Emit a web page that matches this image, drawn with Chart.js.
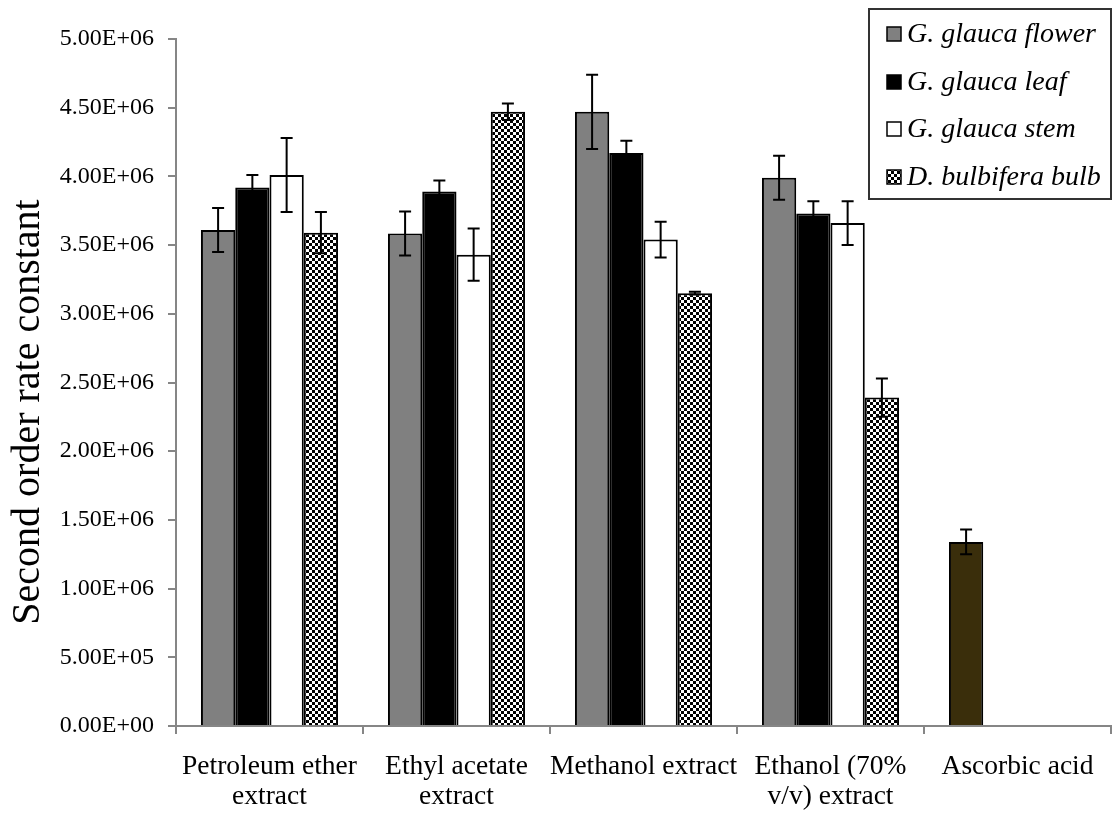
<!DOCTYPE html>
<html>
<head>
<meta charset="utf-8">
<script src="https://cdn.jsdelivr.net/npm/chart.js@4/dist/chart.umd.min.js"></script>
<style>
html,body{margin:0;padding:0;background:#fff;}
#wrap{width:1114px;height:816px;}
</style>
</head>
<body>
<div id="wrap"><canvas id="c" width="1114" height="816"></canvas></div>
<script>
// ---- data ----
const categories = [["Petroleum ether","extract"],["Ethyl acetate","extract"],["Methanol extract"],["Ethanol (70%","v/v) extract"],["Ascorbic acid"]];
const seriesNames = ["G. glauca flower","G. glauca leaf","G. glauca stem","D. bulbifera bulb"];
const flowerValues = [3.61e6, 3.585e6, 4.47e6, 3.99e6, 1.34e6];
const flowerErrors = [0.16e6, 0.16e6, 0.27e6, 0.16e6, 0.09e6];
const leafValues   = [3.92e6, 3.89e6, 4.17e6, 3.73e6, null];
const leafErrors   = [0.09e6, 0.08e6, 0.09e6, 0.09e6, null];
const stemValues   = [4.01e6, 3.43e6, 3.54e6, 3.66e6, null];
const stemErrors   = [0.27e6, 0.19e6, 0.13e6, 0.16e6, null];
const bulbValues   = [3.59e6, 4.47e6, 3.15e6, 2.39e6, null];
const bulbErrors   = [0.15e6, 0.06e6, 0.01e6, 0.14e6, null];
const yMin = 0, yMax = 5e6, yStep = 5e5;
const yTitle = "Second order rate constant";

// ---- styling ----
const SERIF = '"Liberation Serif","Times New Roman",serif';
function makePattern(){
  const p = document.createElement('canvas'); p.width = 6; p.height = 6;
  const g = p.getContext('2d');
  g.fillStyle = '#fff'; g.fillRect(0,0,6,6);
  g.fillStyle = '#000'; g.fillRect(0,0,3,3); g.fillRect(3,3,3,3);
  return document.getElementById('c').getContext('2d').createPattern(p,'repeat');
}
const checker = makePattern();
const flowerColors = flowerValues.map((v,i)=> i===4 ? '#3a2e0b' : '#808080');

function sci(v){
  if (v === 0) return '0.00E+00';
  const e = Math.floor(Math.log10(v) + 1e-9);
  const m = v / Math.pow(10,e);
  return m.toFixed(2) + 'E+' + String(e).padStart(2,'0');
}

const errorMap = [flowerErrors, leafErrors, stemErrors, bulbErrors];

const errorBars = {
  id:'errorBars',
  afterDatasetsDraw(chart){
    const ctx = chart.ctx, ys = chart.scales.y;
    ctx.save();
    ctx.strokeStyle = '#000'; ctx.lineWidth = 2;
    chart.data.datasets.forEach((ds,di)=>{
      const meta = chart.getDatasetMeta(di);
      ds.data.forEach((v,i)=>{
        const e = errorMap[di][i];
        if (v == null || e == null) return;
        const x = meta.data[i].x;
        const y1 = ys.getPixelForValue(v + e), y2 = ys.getPixelForValue(v - e);
        const cw = 6;
        ctx.beginPath();
        ctx.moveTo(x, y1); ctx.lineTo(x, y2);
        ctx.moveTo(x-cw, y1); ctx.lineTo(x+cw, y1);
        ctx.moveTo(x-cw, y2); ctx.lineTo(x+cw, y2);
        ctx.stroke();
      });
    });
    ctx.restore();
  }
};

const yTitlePlugin = {
  id:'yTitlePlugin',
  afterDraw(chart){
    const ctx = chart.ctx;
    ctx.save();
    ctx.translate(28, 412);
    ctx.rotate(-Math.PI/2);
    ctx.font = '40px ' + SERIF;
    ctx.fillStyle = '#000';
    ctx.textAlign = 'center'; ctx.textBaseline = 'middle';
    ctx.fillText(yTitle, 0, 0);
    ctx.restore();
  }
};

const legendBox = {
  id:'legendBox',
  afterDraw(chart){
    const ctx = chart.ctx;
    ctx.save();
    const bx = 869, by = 9, bw = 242, bh = 190;
    ctx.fillStyle = '#fff'; ctx.fillRect(bx, by, bw, bh);
    ctx.strokeStyle = '#333'; ctx.lineWidth = 2;
    ctx.strokeRect(bx, by, bw, bh);
    ctx.font = 'italic 28px ' + SERIF;
    ctx.textBaseline = 'middle'; ctx.textAlign = 'left';
    const rows = [34, 82, 129, 177];
    chart.data.datasets.forEach((ds,i)=>{
      const y = rows[i];
      const fill = Array.isArray(ds.backgroundColor) ? ds.backgroundColor[0] : ds.backgroundColor;
      ctx.fillStyle = fill;
      ctx.fillRect(887, y-7, 14, 14);
      ctx.strokeStyle = '#000'; ctx.lineWidth = 1.5;
      ctx.strokeRect(887, y-7, 14, 14);
      ctx.fillStyle = '#000';
      ctx.fillText(ds.label, 907, y+1);
    });
    ctx.restore();
  }
};

new Chart(document.getElementById('c'), {
  type:'bar',
  data:{
    labels: categories,
    datasets:[
      {label:seriesNames[0], data:flowerValues, backgroundColor:flowerColors, borderColor:'#000', borderWidth:2},
      {label:seriesNames[1], data:leafValues, backgroundColor:'#000', borderColor:'#000', borderWidth:2},
      {label:seriesNames[2], data:stemValues, backgroundColor:'#fff', borderColor:'#000', borderWidth:2},
      {label:seriesNames[3], data:bulbValues, backgroundColor:checker, borderColor:'#000', borderWidth:2}
    ]
  },
  options:{
    responsive:false, animation:false,
    devicePixelRatio:1,
    layout:{padding:{top:39, right:3, left:0, bottom:0}},
    datasets:{bar:{categoryPercentage:0.733, barPercentage:1.0, skipNull:false}},
    plugins:{legend:{display:false}, tooltip:{enabled:false}},
    scales:{
      x:{
        grid:{display:true, offset:true, drawOnChartArea:false, drawTicks:true, tickLength:8, color:'#868686', lineWidth:2},
        border:{display:true, color:'#868686', width:2},
        ticks:{color:'#000', font:{family:SERIF, size:27.5, lineHeight:1.08}, padding:18, maxRotation:0, autoSkip:false},
        afterFit(s){ s.height = 90; }
      },
      y:{
        min:yMin, max:yMax,
        grid:{display:true, drawOnChartArea:false, drawTicks:true, tickLength:8, color:'#868686', lineWidth:2},
        border:{display:true, color:'#868686', width:2},
        ticks:{stepSize:yStep, color:'#000', font:{family:SERIF, size:24}, padding:14, callback:(v)=>sci(v)},
        title:{display:false},
        afterFit(s){ s.width = 176; }
      }
    }
  },
  plugins:[errorBars, yTitlePlugin, legendBox]
});
</script>
</body>
</html>
